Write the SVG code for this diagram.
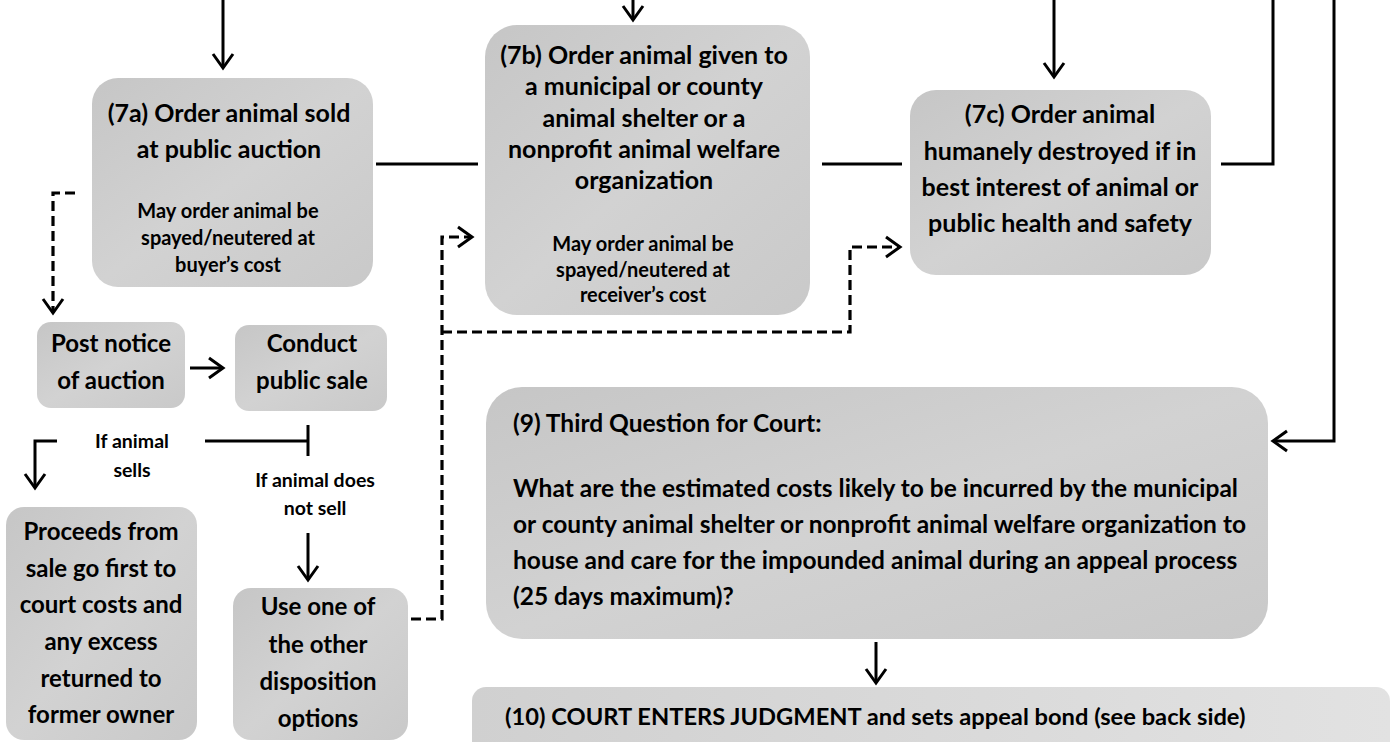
<svg xmlns="http://www.w3.org/2000/svg" width="1395" height="742" viewBox="0 0 1395 742">
<style>
.box{fill:url(#g);}
.box2{fill:url(#g2);}
text{font-family:Lato,"Liberation Sans",sans-serif;font-weight:bold;fill:#000;}
.t{font-size:25px;text-anchor:middle;}
.m{font-size:24px;text-anchor:middle;}
.s{font-size:20px;text-anchor:middle;}
.l{font-size:19.5px;text-anchor:middle;}
.q{font-size:24.5px;}
.ln{fill:none;stroke:#000;stroke-width:3;}
.ds{fill:none;stroke:#000;stroke-width:3.2;stroke-dasharray:10 5;}
</style>
<defs>
<linearGradient id="g" x1="0" y1="0" x2="1" y2="1">
<stop offset="0" stop-color="#c6c6c6"/>
<stop offset="0.5" stop-color="#d2d2d2"/>
<stop offset="1" stop-color="#c9c9c9"/>
</linearGradient>
<linearGradient id="g2" x1="0" y1="0" x2="1" y2="0">
<stop offset="0" stop-color="#d0d0d0"/>
<stop offset="1" stop-color="#e2e2e2"/>
</linearGradient>
<marker id="a" viewBox="0 0 30 30" markerWidth="30" markerHeight="30" refX="27" refY="15" orient="auto" markerUnits="userSpaceOnUse">
<path d="M13,5 L27,15 L13,25" fill="none" stroke="#000" stroke-width="3"/>
</marker>
</defs>
<rect width="1395" height="742" fill="#fff"/>

<g id="connectors">
<path class="ln" d="M223,0 V68" marker-end="url(#a)"/>
<path class="ln" d="M633,0 V20" marker-end="url(#a)"/>
<path class="ln" d="M1054,0 V77" marker-end="url(#a)"/>
<path class="ln" d="M376,164 H478"/>
<path class="ln" d="M822,164 H902"/>
<path class="ln" d="M1221,164 H1273 V0"/>
<path class="ln" d="M1334,0 V441 H1273" marker-end="url(#a)"/>
<path class="ds" d="M75,193 H53 V313" marker-end="url(#a)"/>
<path class="ln" d="M190,368 H223" marker-end="url(#a)"/>
<path class="ln" d="M57,441 H35 V488" marker-end="url(#a)"/>
<path class="ln" d="M205,441 H308 M308,425 V456"/>
<path class="ln" d="M308,533 V580" marker-end="url(#a)"/>
<path class="ds" d="M411,619 H442 V237 H472" marker-end="url(#a)"/>
<path class="ds" d="M442,332 H850 V247 H900" marker-end="url(#a)"/>
<path class="ln" d="M876,642 V683" marker-end="url(#a)"/>
</g>

<g id="n7a">
<rect class="box" x="92" y="78" width="281" height="209" rx="26"/>
<text class="t" x="229" y="122">(7a) Order animal sold</text>
<text class="t" x="229" y="158">at public auction</text>
<text class="s" x="228" y="218">May order animal be</text>
<text class="s" x="228" y="245">spayed/neutered at</text>
<text class="s" x="228" y="272">buyer’s cost</text>
</g>

<g id="n7b">
<rect class="box" x="485" y="25" width="325" height="290" rx="32"/>
<text class="t" x="644" y="64">(7b) Order animal given to</text>
<text class="t" x="644" y="95">a municipal or county</text>
<text class="t" x="644" y="127">animal shelter or a</text>
<text class="t" x="644" y="158">nonprofit animal welfare</text>
<text class="t" x="644" y="189">organization</text>
<text class="s" x="643" y="251">May order animal be</text>
<text class="s" x="643" y="277">spayed/neutered at</text>
<text class="s" x="643" y="302">receiver’s cost</text>
</g>

<g id="n7c">
<rect class="box" x="910" y="90" width="301" height="185" rx="26"/>
<text class="t" x="1060" y="123">(7c) Order animal</text>
<text class="t" x="1060" y="160">humanely destroyed if in</text>
<text class="t" x="1060" y="196">best interest of animal or</text>
<text class="t" x="1060" y="232">public health and safety</text>
</g>

<g id="npost">
<rect class="box" x="37" y="322" width="148" height="86" rx="14"/>
<text class="m" x="111" y="352">Post notice</text>
<text class="m" x="111" y="389">of auction</text>
</g>

<g id="nconduct">
<rect class="box" x="235" y="325" width="152" height="86" rx="14"/>
<text class="m" x="312" y="352">Conduct</text>
<text class="m" x="312" y="389">public sale</text>
</g>

<g id="lsells">
<text class="l" x="132" y="448">If animal</text>
<text class="l" x="132" y="477">sells</text>
</g>

<g id="lnotsell">
<text class="l" x="315" y="487">If animal does</text>
<text class="l" x="315" y="515">not sell</text>
</g>

<g id="nproceeds">
<rect class="box" x="6" y="507" width="191" height="233" rx="18"/>
<text class="m" x="101" y="540">Proceeds from</text>
<text class="m" x="101" y="577">sale go first to</text>
<text class="m" x="101" y="613">court costs and</text>
<text class="m" x="101" y="650">any excess</text>
<text class="m" x="101" y="687">returned to</text>
<text class="m" x="101" y="723">former owner</text>
</g>

<g id="nuse">
<rect class="box" x="233" y="588" width="175" height="152" rx="18"/>
<text class="m" x="318" y="615">Use one of</text>
<text class="m" x="318" y="653">the other</text>
<text class="m" x="318" y="690">disposition</text>
<text class="m" x="318" y="727">options</text>
</g>

<g id="n9">
<rect class="box" x="486" y="387" width="782" height="252" rx="36"/>
<text class="q" x="513" y="432">(9) Third Question for Court:</text>
<text class="q" x="513" y="497">What are the estimated costs likely to be incurred by the municipal</text>
<text class="q" x="513" y="533">or county animal shelter or nonprofit animal welfare organization to</text>
<text class="q" x="513" y="569">house and care for the impounded animal during an appeal process</text>
<text class="q" x="513" y="605">(25 days maximum)?</text>
</g>

<g id="n10">
<rect class="box2" x="472" y="687" width="918" height="70" rx="14"/>
<text class="q" x="505" y="725" style="font-size:23.7px">(10) COURT ENTERS JUDGMENT and sets appeal bond (see back side)</text>
</g>
</svg>
